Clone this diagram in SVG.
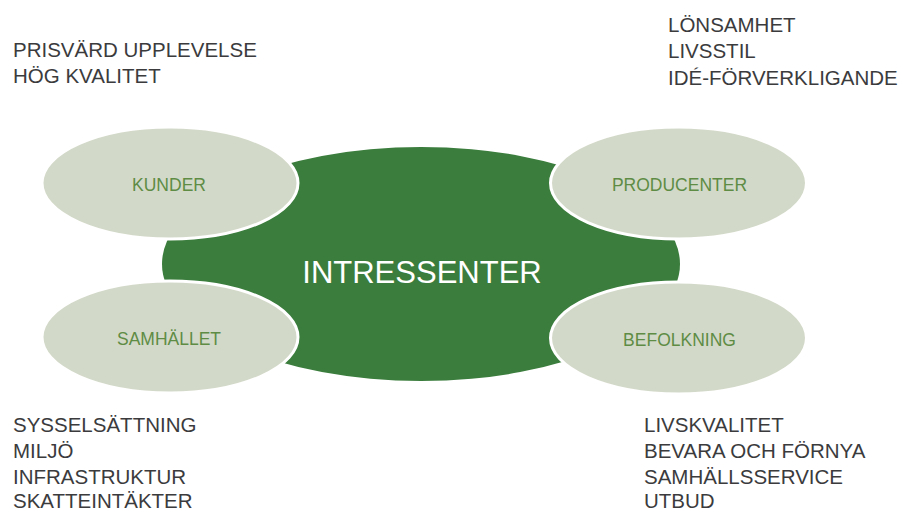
<svg xmlns="http://www.w3.org/2000/svg" width="903" height="512" viewBox="0 0 903 512">
<style>
.list{font-family:"Liberation Sans",Arial,sans-serif;font-size:20.5px;fill:#3b3b3d}
.sub{fill:#d3d9c8;stroke:#ffffff;stroke-width:3}
.lbl{font-family:"Liberation Sans",Arial,sans-serif;font-size:17.5px;fill:#5e8c45;text-anchor:middle}
.main{font-family:"Liberation Sans",Arial,sans-serif;font-size:31px;fill:#ffffff;text-anchor:middle}
</style>
<rect width="903" height="512" fill="#ffffff"/>
<g id="connectors"></g>
<g id="intressenter">
<ellipse cx="421" cy="264" rx="259" ry="117" fill="#3a7d3c"/>
<text class="main" x="422" y="283">INTRESSENTER</text>
</g>
<g id="kunder">
<ellipse class="sub" cx="170" cy="183" rx="128" ry="56"/>
<text class="lbl" x="169" y="191">KUNDER</text>
</g>
<g id="producenter">
<ellipse class="sub" cx="678.5" cy="183" rx="128" ry="56"/>
<text class="lbl" x="679.5" y="191">PRODUCENTER</text>
</g>
<g id="samhallet">
<ellipse class="sub" cx="170" cy="337" rx="128" ry="56"/>
<text class="lbl" x="169" y="345">SAMHÄLLET</text>
</g>
<g id="befolkning">
<ellipse class="sub" cx="678.5" cy="338" rx="128" ry="56"/>
<text class="lbl" x="679.5" y="346">BEFOLKNING</text>
</g>
<g id="kunder-list">
<text class="list" x="13" y="57">PRISVÄRD UPPLEVELSE</text>
<text class="list" x="13" y="83">HÖG KVALITET</text>
</g>
<g id="producenter-list">
<text class="list" x="668" y="32">LÖNSAMHET</text>
<text class="list" x="668" y="58">LIVSSTIL</text>
<text class="list" x="668" y="85">IDÉ-FÖRVERKLIGANDE</text>
</g>
<g id="samhallet-list">
<text class="list" x="13" y="432">SYSSELSÄTTNING</text>
<text class="list" x="13" y="458">MILJÖ</text>
<text class="list" x="13" y="484">INFRASTRUKTUR</text>
<text class="list" x="13" y="508">SKATTEINTÄKTER</text>
</g>
<g id="befolkning-list">
<text class="list" x="644" y="432">LIVSKVALITET</text>
<text class="list" x="644" y="458">BEVARA OCH FÖRNYA</text>
<text class="list" x="644" y="484">SAMHÄLLSSERVICE</text>
<text class="list" x="644" y="508">UTBUD</text>
</g>
</svg>
